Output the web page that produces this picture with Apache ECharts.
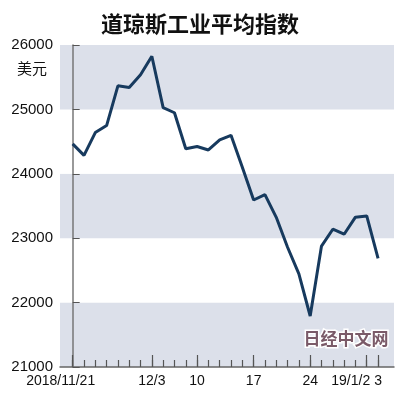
<!DOCTYPE html>
<html>
<head>
<meta charset="utf-8">
<script src="https://cdn.jsdelivr.net/npm/echarts@6/dist/echarts.min.js"></script>
<style>
  html, body { margin: 0; padding: 0; background: #fff; }
  #chart { width: 400px; height: 400px; }
</style>
</head>
<body>
<div id="chart"></div>
<script>
  // 交易日 2018/11/21 - 2019/1/3
  var days = ['2018/11/21', '11/23', '11/26', '11/27', '11/28', '11/29', '11/30',
    '12/3', '12/4', '12/6', '12/7', '12/10', '12/11', '12/12', '12/13', '12/14',
    '12/17', '12/18', '12/19', '12/20', '12/21', '12/24', '12/26', '12/27', '12/28',
    '12/31', '19/1/2', '1/3'];
  // 收盘（美元）
  var closes = [24465, 24286, 24640, 24749, 25366, 25339, 25538,
    25826, 25027, 24948, 24389, 24423, 24370, 24527, 24597, 24101,
    23593, 23676, 23324, 22860, 22445, 21792, 22878, 23139, 23062,
    23327, 23346, 22686];
  // 带标签的长刻度
  var labelIdx = [0, 7, 11, 16, 21, 26, 27];
  var labelText = ['2018/11/21', '12/3', '10', '17', '24', '19/1/2', '3'];
  var yTicks = [21000, 22000, 23000, 24000, 25000, 26000];

  var allIdx = days.map(function (d, i) { return i; });
  var lineData = closes.map(function (v, i) { return [i, v]; });

  var chart = echarts.init(document.getElementById('chart'));
  var xMin = -1.12, xMax = 28.41;

  var option = {
    animation: false,
    title: {
      text: '道琼斯工业平均指数',
      left: 'center',
      top: 8,
      textStyle: {
        fontFamily: 'Noto Sans CJK SC',
        fontSize: 22,
        fontWeight: 'bold',
        color: '#111'
      }
    },
    grid: { left: 60, right: 6, top: 45, bottom: 33 },
    xAxis: [{
      type: 'value',
      min: xMin,
      max: xMax,
      axisLine: { show: true, lineStyle: { color: '#666', width: 1.5 } },
      splitLine: { show: false },
      axisTick: {
        show: true,
        inside: true,
        length: 7,
        customValues: allIdx,
        lineStyle: { color: '#555', width: 1.2 }
      },
      axisLabel: {
        customValues: labelIdx,
        margin: 7,
        fontFamily: 'Liberation Sans',
        fontSize: 14,
        color: '#111',
        formatter: function (v) {
          var k = labelIdx.indexOf(Math.round(v));
          var t = labelText[k];
          if (k === 0) return '{a|' + t + '}';
          if (k === 5) return '{b|' + t + '}';
          return t;
        },
        rich: {
          a: { fontFamily: 'Liberation Sans', fontSize: 14, color: '#111', padding: [0, 24, 0, 0] },
          b: { fontFamily: 'Liberation Sans', fontSize: 14, color: '#111', padding: [0, 32, 0, 0] }
        }
      }
    }, {
      type: 'value',
      min: xMin,
      max: xMax,
      position: 'bottom',
      axisLine: { show: false },
      splitLine: { show: false },
      axisLabel: { show: false },
      axisTick: {
        show: true,
        inside: true,
        length: 12,
        customValues: labelIdx,
        lineStyle: { color: '#555', width: 1.2 }
      }
    }],
    yAxis: {
      type: 'value',
      min: yTicks[0],
      max: yTicks[yTicks.length - 1],
      interval: 1000,
      axisLine: { show: true, lineStyle: { color: '#777', width: 1.5 } },
      axisTick: { show: true, inside: true, length: 7, lineStyle: { color: '#555' } },
      axisLabel: {
        margin: 7,
        fontFamily: 'Liberation Sans',
        fontSize: 15,
        color: '#111',
        formatter: function (v) { return String(v); }
      },
      splitLine: { show: false },
      splitArea: {
        show: true,
        areaStyle: { color: ['#dce0ea', '#ffffff'] }
      }
    },
    graphic: [{
      type: 'text',
      left: 17,
      top: 61,
      style: {
        text: '美元',
        fontFamily: 'Noto Sans CJK SC',
        fontSize: 15,
        fill: '#111'
      }
    }, {
      type: 'text',
      left: 302,
      top: 329,
      z: 10,
      style: {
        text: '日经中文网',
        fontFamily: 'Noto Sans CJK SC',
        fontSize: 17,
        fontWeight: 'bold',
        fill: '#7a5a68',
        stroke: '#ffffff',
        lineWidth: 3
      }
    }],
    series: [{
      type: 'line',
      xAxisIndex: 0,
      data: lineData,
      symbol: 'none',
      lineStyle: { color: '#173a5e', width: 3 },
      z: 5
    }]
  };
  chart.setOption(option);
</script>
</body>
</html>
